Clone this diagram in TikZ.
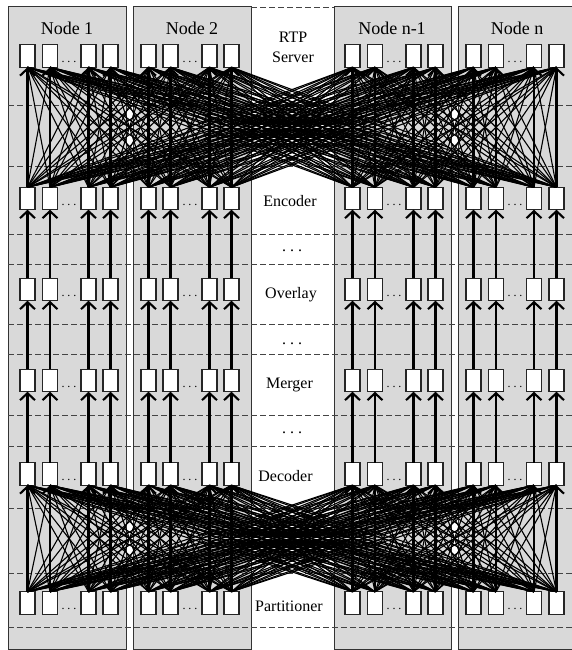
\documentclass[tikz,border=0pt]{standalone}
\usepackage{fontspec}
\setmainfont{Liberation Serif}
\usetikzlibrary{arrows.meta}
\definecolor{panelgray}{HTML}{D9D9D9}
\definecolor{edgegray}{HTML}{333333}
\definecolor{dashgray}{HTML}{444444}
\begin{document}
\begin{tikzpicture}[x=1pt,y=-1pt,
  panel/.style={draw=edgegray, line width=1pt, fill=panelgray},
  sep/.style={draw=dashgray, dash pattern=on 6pt off 3pt, line width=0.9pt},
  unit/.style={draw=black!85, fill=white, line width=1.2pt, minimum width=15pt, minimum height=22.5pt, inner sep=0pt, outer sep=0pt},
  flow/.style={line width=2.3pt, -{Straight Barb[length=7pt,width=15pt,line width=2.1pt]}},
  mesh/.style={line width=1.1pt},
  nlabel/.style={font=\fontsize{18}{20}\selectfont, anchor=base, inner sep=0pt},
  clabel/.style={font=\fontsize{16}{18}\selectfont, anchor=base, inner sep=0pt},
  cdots/.style={font=\fontsize{16}{18}\selectfont, anchor=base, inner sep=0pt},
  rowdots/.style={font=\fontsize{12}{14}\selectfont, anchor=base, inner sep=0pt}
]
\useasboundingbox (0,0) rectangle (572,650);
\clip (0,0) rectangle (572,650);
\fill[white] (0,0) rectangle (572,650);
% panels
\foreach \l/\r in {8/126,133/251,334/451,458/578}
  \draw[panel] (\l,7) rectangle (\r,649);
% dashed separators
\draw[sep] (251,7) -- (334,7);
\foreach \y in {105,166,234,264,324,354,415,446,508,573,627}
  \draw[sep] (8,\y) -- (572,\y);
% unit boxes
\foreach \x [count=\k] in {27.5,50,88.5,110.5,148.5,170.5,209.5,231.5,352.5,375,413.5,435.5,473.5,496,534,556.5}{
  \foreach \y [count=\r] in {56,198.5,289.5,380.5,474,603}{
    \node[unit] (u\r-\k) at (\x,\y) {};
  }
}
% dots inside rows
\foreach \x [count=\p] in {69,190,394,515}{
  \foreach \y [count=\r] in {56,198.5,289.5,380.5,474,603}{
    \node[rowdots] (d\r-\p) at ({\x},{\y+6.5}) {.\hspace{2.8pt}.\hspace{2.8pt}.};
  }
}
% full meshes
\foreach \i in {1,...,16}{
  \foreach \j in {1,...,16}{
    \ifnum\i=\j\relax\else
      \draw[mesh] (u2-\i.north) -- (u1-\j.south);
      \draw[mesh] (u6-\i.north) -- (u5-\j.south);
    \fi
  }
}
% vertical flows
\foreach \k in {1,...,16}{
  \draw[flow] (u2-\k.north) -- (u1-\k.south);
  \draw[flow] (u3-\k.north) -- (u2-\k.south);
  \draw[flow] (u4-\k.north) -- (u3-\k.south);
  \draw[flow] (u5-\k.north) -- (u4-\k.south);
  \draw[flow] (u6-\k.north) -- (u5-\k.south);
}
% node labels
\node[nlabel] (n1) at (67,34.5) {Node 1};
\node[nlabel] (n2) at (192,34.5) {Node 2};
\node[nlabel] (n3) at (392,34.5) {Node n-1};
\node[nlabel] (n4) at (517,34.5) {Node n};
% centre labels
\node[clabel] (rtp) at (293,42.3) {RTP};
\node[clabel] (srv) at (293,62.3) {Server};
\node[clabel] (enc) at (290,206.5) {Encoder};
\node[cdots] (c1) at (292,251.5) {.\hspace{4pt}.\hspace{4pt}.};
\node[clabel] (ovl) at (291,298) {Overlay};
\node[cdots] (c2) at (292,344) {.\hspace{4pt}.\hspace{4pt}.};
\node[clabel] (mrg) at (289.5,388) {Merger};
\node[cdots] (c3) at (292,433) {.\hspace{4pt}.\hspace{4pt}.};
\node[clabel] (dec) at (285.5,481) {Decoder};
\node[clabel] (prt) at (289,611) {Partitioner};
\end{tikzpicture}
\end{document}
